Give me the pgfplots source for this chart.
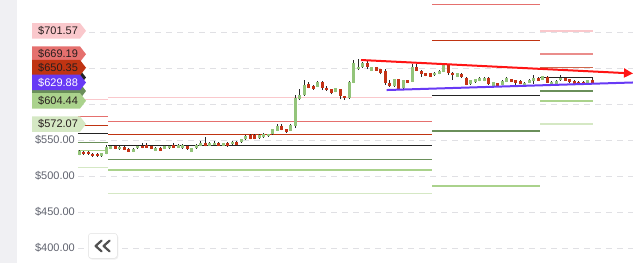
\documentclass[border=0pt]{standalone}
\usepackage{fontspec}
\setmainfont{Liberation Sans}
\usepackage{pgfplots}
\pgfplotsset{compat=1.18}
\usepackage{pgfplotstable}
\usetikzlibrary{arrows.meta}

\definecolor{upc}{RGB}{147,196,122}
\definecolor{dnc}{RGB}{196,50,22}
\definecolor{wick}{RGB}{40,40,40}
\definecolor{gridc}{RGB}{224,224,228}
\definecolor{tickc}{RGB}{95,98,110}
\definecolor{rthree}{RGB}{250,200,204}
\definecolor{rtwo}{RGB}{229,112,110}
\definecolor{rone}{RGB}{192,52,18}
\definecolor{pivc}{RGB}{35,35,35}
\definecolor{sone}{RGB}{106,143,90}
\definecolor{stwo}{RGB}{170,210,140}
\definecolor{sthree}{RGB}{213,232,196}
\definecolor{trendup}{RGB}{104,58,245}
\definecolor{trenddn}{RGB}{255,20,20}
\definecolor{sidebar}{RGB}{240,240,243}
\definecolor{tagtext}{RGB}{40,30,30}

% rising candles: index, open, high, low, close
\pgfplotstableread{
i o h l c
0 529.6 536.5 528.5 535.1
5 527.4 532.5 526.8 531.5
6 531.0 542.5 530.0 540.0
7 537.9 543.5 537.0 542.1
9 537.1 541.5 536.5 540.7
12 533.7 538.5 533.0 537.9
13 538.5 543.0 538.0 542.1
17 535.1 540.0 534.5 539.3
19 537.9 543.0 537.3 542.1
20 538.5 542.8 538.0 542.1
22 539.3 544.3 538.8 543.5
23 538.5 543.8 537.8 543.0
25 533.7 539.2 533.0 538.5
26 538.5 545.0 538.0 543.0
27 541.7 548.0 541.0 546.3
29 542.0 547.0 541.4 546.3
30 543.0 548.5 542.4 546.3
32 542.0 546.0 541.4 545.4
34 544.0 548.3 543.4 547.6
36 546.8 551.7 546.2 551.0
37 551.0 556.7 550.4 556.0
40 552.4 557.7 551.8 557.0
41 553.8 560.0 553.2 558.0
42 555.0 558.8 554.4 558.0
43 558.0 565.8 557.4 565.0
44 563.0 572.6 562.4 570.0
47 563.0 571.8 562.4 571.0
48 569.4 612.5 566.5 607.9
49 606.5 620.4 605.6 612.5
50 612.5 633.3 611.8 626.4
53 624.0 631.5 623.3 630.6
57 617.0 622.6 616.3 621.8
60 607.9 631.3 607.2 630.6
61 629.6 661.0 628.9 657.4
62 648.2 662.5 647.2 651.8
63 651.0 658.2 650.3 657.4
65 646.2 651.8 645.5 651.0
70 625.0 635.4 624.3 634.7
72 621.8 634.0 621.1 633.3
74 631.0 655.0 630.3 651.0
79 639.8 644.2 639.1 643.5
80 641.7 646.9 641.0 646.2
81 644.9 654.9 644.2 654.2
84 638.0 643.3 637.3 642.6
87 627.4 634.0 626.7 633.3
88 630.0 635.4 629.3 634.7
89 632.0 637.2 631.3 636.5
90 632.0 637.2 631.3 636.5
92 625.4 630.7 624.7 630.0
94 626.4 632.7 625.7 632.0
95 631.0 638.0 630.3 635.7
99 626.4 630.3 625.7 629.6
100 629.6 634.7 628.9 634.0
101 632.0 640.0 628.0 636.5
103 634.0 639.2 633.3 638.5
105 627.8 631.7 627.1 631.0
106 627.8 632.7 627.1 632.0
107 632.9 640.0 632.2 636.5
113 629.2 634.0 628.5 633.3
}\upcandles

% falling candles: index, open, high, low, close
\pgfplotstableread{
i o h l c
1 533.7 535.0 529.0 530.1
2 533.7 535.2 529.2 530.0
3 531.0 532.5 526.5 527.4
4 531.0 532.0 526.4 527.4
8 542.1 543.0 537.0 537.9
10 540.7 541.5 536.0 536.8
11 537.9 538.8 533.0 533.7
14 541.7 545.4 538.2 538.9
15 543.5 545.4 538.6 539.3
16 542.1 543.0 537.2 537.9
18 539.3 540.0 534.4 535.1
21 543.5 545.4 538.7 539.3
24 542.0 542.8 536.8 537.5
28 546.3 554.0 541.3 542.0
31 546.3 547.0 541.4 542.0
33 545.4 547.5 540.4 541.0
35 547.6 548.3 542.9 543.5
38 557.0 557.8 550.8 551.4
39 557.0 557.8 550.8 551.4
45 570.0 572.6 563.4 564.0
46 565.0 565.8 560.0 560.7
51 627.4 630.1 621.8 622.6
52 625.4 626.2 620.0 621.3
54 630.6 631.3 619.4 622.6
55 622.6 624.5 618.2 619.0
56 620.4 621.2 613.5 615.7
58 620.4 621.5 606.5 611.1
59 611.1 611.8 605.6 607.9
64 657.4 661.0 648.0 651.0
66 651.0 651.8 645.5 646.2
67 648.2 649.0 641.0 643.5
68 646.2 648.2 626.4 629.6
69 629.6 634.0 624.3 625.0
71 634.7 635.4 620.1 620.8
73 633.3 634.0 628.9 629.6
75 651.0 655.0 645.5 646.2
76 646.2 646.9 638.0 641.7
77 642.6 643.3 638.2 638.9
78 642.6 643.3 637.3 638.0
82 654.2 656.0 640.0 642.6
83 643.5 644.2 633.0 639.8
85 641.7 642.4 636.4 637.1
86 636.5 637.2 625.7 626.4
91 636.5 637.2 626.7 627.4
93 629.0 629.7 624.7 625.4
96 634.7 635.4 630.3 631.0
97 632.9 633.6 625.0 629.2
98 632.0 632.7 627.3 628.0
102 636.5 637.2 631.7 632.4
104 638.0 638.7 628.9 629.6
108 636.5 637.2 631.7 632.4
109 634.7 635.4 629.3 630.0
110 632.0 632.7 627.3 628.0
111 631.0 631.7 627.3 628.0
112 631.0 631.7 627.3 628.0
114 633.8 635.5 628.5 629.2
}\downcandles

\newcommand{\tickfont}{\fontsize{11}{13}\selectfont}
\newcommand{\tagx}{-10.51}

% a pivot level: from, to, price, colour
\newcommand{\level}[4]{\addplot[#4, line width=1.4pt, forget plot] coordinates {(#1,#3) (#2,#3)};}

% the arrow-shaped backing of a price tag: price, fill
\newcommand{\tagshape}[2]{%
  \fill[#2] (axis cs:\tagx,#1) ++(0pt,7.75pt) -- ++(48pt,0pt) -- ++(6pt,-7.75pt)
     -- ++(-6pt,-7.75pt) -- ++(-48pt,0pt) -- cycle;
}
% a full price tag: price, fill, text colour, text
\newcommand{\pricetag}[4]{%
  \tagshape{#1}{#2}
  \node[anchor=west, inner sep=0pt, text=#3, font=\tickfont]
     at ([xshift=6pt]axis cs:\tagx,#1) {\$#4};
}

\begin{document}
\begin{tikzpicture}
\begin{axis}[
  scale only axis, width=633pt, height=263pt,
  xmin=-17.622, xmax=123.044, ymin=379.17, ymax=744.44,
  axis line style={draw=none},
  tick style={draw=none}, major tick length=0pt,
  xtick=\empty, ytick={400,450,500,550},
  /pgf/number format/assume math mode=true,
  yticklabel={\$\pgfmathprintnumber[fixed,fixed zerofill,precision=2]{\tick}},
  yticklabel style={anchor=east, inner sep=0pt, xshift=75pt, text=tickc, font=\tickfont},
]
% horizontal price grid
\pgfplotsinvokeforeach{400,450,500,550,600,650,700}{
  \draw[gridc, line width=0.9pt, dash pattern=on 6pt off 5pt] (axis cs:-0.29,#1) -- (axis cs:123.04,#1);
}

% pivot levels, one block per period
\level{-0.29}{6.46}{606.5}{rthree}
\level{-0.29}{6.46}{582.4}{rtwo}
\level{-0.29}{6.46}{569.9}{rone}
\level{-0.29}{6.46}{559.3}{pivc}
\level{-0.29}{6.46}{546.8}{sone}
\level{-0.29}{6.46}{535.7}{stwo}
\level{-0.29}{6.46}{512.1}{sthree}

\level{6.46}{78.4}{609.0}{rthree}
\level{6.46}{78.4}{576.0}{rtwo}
\level{6.46}{78.4}{557.4}{rone}
\level{6.46}{78.4}{542.1}{pivc}
\level{6.46}{78.4}{523.2}{sone}
\level{6.46}{78.4}{508.3}{stwo}
\level{6.46}{78.4}{475.4}{sthree}

\level{78.4}{102.4}{737.9}{rtwo}
\level{78.4}{102.4}{688.5}{rone}
\level{78.4}{102.4}{611.5}{pivc}
\level{78.4}{102.4}{562.5}{sone}
\level{78.4}{102.4}{486.1}{stwo}

\level{102.4}{114.2}{701.57}{rthree}
\level{102.4}{114.2}{669.19}{rtwo!80}
\level{102.4}{114.2}{650.35}{rone!75}
\level{102.4}{114.2}{636.82}{pivc}
\level{102.4}{114.2}{617.98}{sone}
\level{102.4}{114.2}{604.44}{stwo}
\level{102.4}{114.2}{572.07}{sthree}

% candles: wicks, then bodies
\addplot[no markers, color=wick, line width=0.8pt, forget plot,
  quiver={u=0, v=\thisrow{h}-\thisrow{l}}] table[x=i, y=l] {\upcandles};
\addplot[no markers, color=wick, line width=0.8pt, forget plot,
  quiver={u=0, v=\thisrow{h}-\thisrow{l}}] table[x=i, y=l] {\downcandles};
\addplot[no markers, color=upc, line width=3.3pt, forget plot,
  quiver={u=0, v=\thisrow{c}-\thisrow{o}}] table[x=i, y=o] {\upcandles};
\addplot[no markers, color=dnc, line width=3.3pt, forget plot,
  quiver={u=0, v=\thisrow{c}-\thisrow{o}}] table[x=i, y=o] {\downcandles};

% trend lines
\addplot[trendup, line width=2pt] coordinates {(68.3,619.4) (123.04,629.88)};
\addplot[trenddn, line width=2pt, -{Triangle[length=9pt,width=9pt]}]
  coordinates {(62.6,661.1) (123.04,642.4)};

% price tags (the pivot and first support tags sit underneath the others)
\pricetag{701.57}{rthree}{tagtext}{701.57}
\pricetag{669.19}{rtwo}{tagtext}{669.19}
\tagshape{617.98}{sone}
\pricetag{604.44}{stwo}{tagtext}{604.44}
\pricetag{572.07}{sthree}{tagtext}{572.07}
\tagshape{636.82}{pivc}
\pricetag{650.35}{rone}{tagtext}{650.35}
\pricetag{629.88}{trendup}{white}{629.88}
\end{axis}

\begin{scope}[shift={(current axis.north west)}, x=1pt, y=-1pt]
  \fill[sidebar] (0,0) rectangle (17,263);
  \fill[black!6, rounded corners=3pt] (88.8,234.3) rectangle (118.3,259.5);
  \draw[fill=white, draw=black!12, rounded corners=3pt] (88.3,233.3) rectangle (117.3,258.3);
  \draw[black!68, line width=2.2pt, line cap=round, line join=round]
    (101.6,240.6) -- (95.6,246) -- (101.6,251.4)
    (109.6,240.6) -- (103.6,246) -- (109.6,251.4);
\end{scope}
\pgfresetboundingbox
\path[use as bounding box] (current axis.south west) rectangle (current axis.north east);
\end{tikzpicture}
\end{document}
